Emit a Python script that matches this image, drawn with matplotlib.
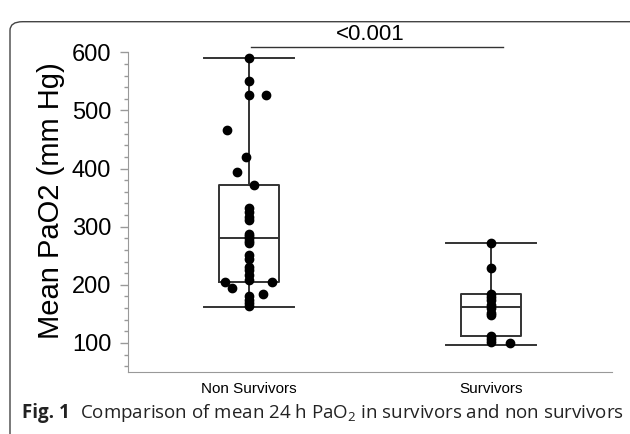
import numpy as np
import matplotlib.pyplot as plt
from matplotlib.patches import FancyBboxPatch

# Dados
groups = ["Non Survivors", "Survivors"]
non_surv = [590, 550, 527, 526, 466, 420, 394, 372, 332, 325, 317, 311,
            288, 284, 280, 276, 272, 251, 245, 231, 225, 217, 209,
            205, 205, 194, 184, 180, 174, 168, 163]
non_surv_jit = [0, 0, 0, 0.07, -0.09, -0.01, -0.05, 0.02, 0, 0, 0, 0,
                0, 0, 0, 0, 0, 0, 0, 0, 0, 0, 0,
                -0.10, 0.095, -0.07, 0.06, 0, 0, 0, 0]
surv = [272, 228, 184, 179, 174, 165, 160, 152, 148, 112, 106, 101, 99]
surv_jit = [0, 0, 0, 0, 0, 0, 0, 0, 0, 0, 0, 0, 0.08]

# estatísticas das caixas (min, Q1, mediana, Q3, max)
whislo = [161, 97]
q1 = [204, 111]
med = [280, 161]
q3 = [372, 184]
whishi = [590, 272]
p_text = "<0.001"

plt.rcParams['font.family'] = ['Liberation Sans', 'DejaVu Sans']

fig = plt.figure(figsize=(6.3, 4.34), dpi=100)
ax = fig.add_axes([0.203, 0.143, 0.768, 0.79])

stats = []
for i in range(2):
    stats.append(dict(whislo=whislo[i], q1=q1[i], med=med[i], q3=q3[i],
                      whishi=whishi[i], fliers=[]))
lw = 1.4
ax.bxp(stats, positions=[1, 2], widths=0.25, showfliers=False,
       boxprops=dict(color='#333333', linewidth=lw),
       medianprops=dict(color='#333333', linewidth=lw),
       whiskerprops=dict(color='#333333', linewidth=lw),
       capprops=dict(color='#333333', linewidth=lw),
       capwidths=0.37)

ax.plot(1 + np.array(non_surv_jit), non_surv, 'o', color='black', markersize=6, zorder=3)
ax.plot(2 + np.array(surv_jit), surv, 'o', color='black', markersize=6, zorder=3)

# linha de significância
ax.plot([1.01, 2.05], [610, 610], color='#333333', linewidth=1)
ax.text(1.5, 613, p_text, ha='center', va='bottom', fontsize=16)

ax.set_xlim(0.5, 2.5)
ax.set_ylim(50, 640)
ax.set_xticks([1, 2])
ax.set_xticklabels(groups, fontsize=11)
ax.tick_params(axis='x', length=0, pad=7)
ax.set_yticks([100, 200, 300, 400, 500, 600])
ax.set_yticks(np.arange(60, 600, 20), minor=True)
ax.tick_params(axis='y', which='major', colors='#999999', labelcolor='black',
               labelsize=17, length=6, width=1, pad=6)
ax.tick_params(axis='y', which='minor', colors='#999999', length=3, width=1)
ax.set_ylabel("Mean PaO2 (mm Hg)", fontsize=21, labelpad=5)
ax.spines['top'].set_visible(False)
ax.spines['right'].set_visible(False)
ax.spines['left'].set_bounds(50, 600)
ax.spines['left'].set_color('#999999')
ax.spines['bottom'].set_color('#999999')

# moldura e legenda da figura
frame = FancyBboxPatch((10 / 630, -0.05), 1.1, 1.0, transform=fig.transFigure,
                       boxstyle="round,pad=0,rounding_size=0.02",
                       facecolor='none', edgecolor='#444444', linewidth=1)
fig.patches.append(frame)
fig.text(22 / 630, 1 - 418 / 434, "Fig. 1", fontsize=13.5, fontweight='bold',
         family=['Open Sans', 'DejaVu Sans'], color='#222222')
fig.text(80 / 630, 1 - 418 / 434,
         r"Comparison of mean 24 h PaO$_\mathregular{2}$ in survivors and non survivors",
         fontsize=13.5, family=['Open Sans', 'DejaVu Sans'], color='#222222')

fig.savefig("out.png", dpi=100)
